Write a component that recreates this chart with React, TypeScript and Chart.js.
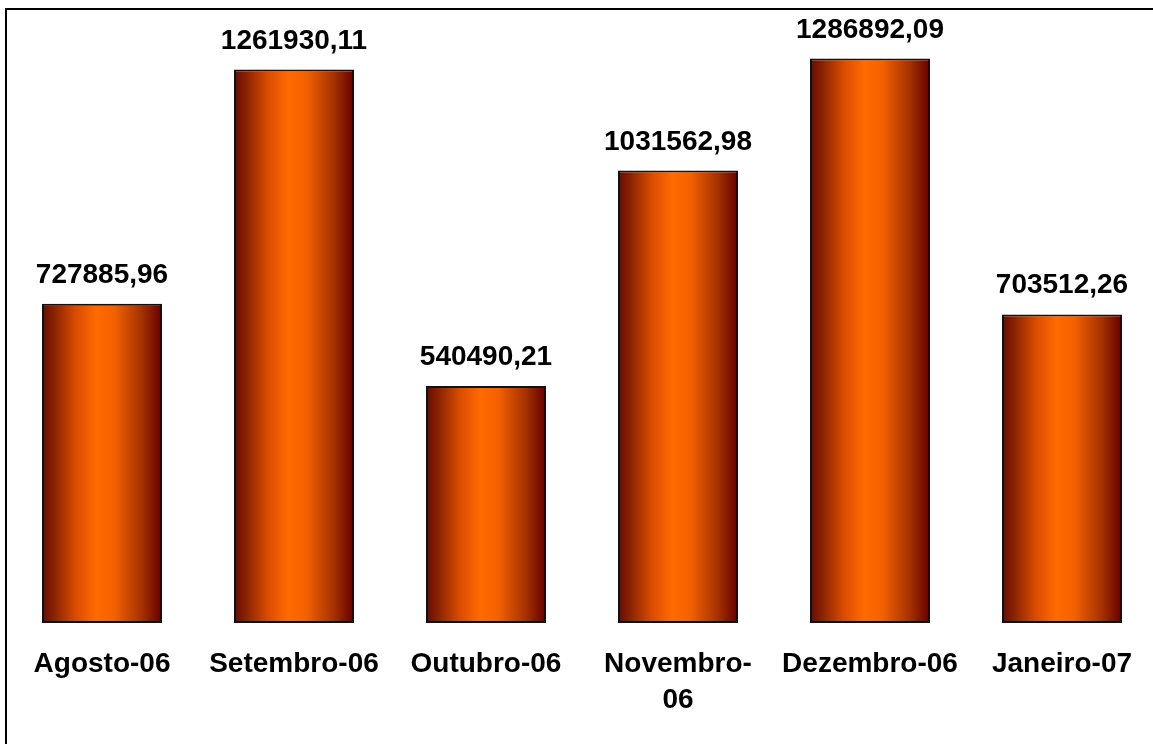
import React, { useEffect, useRef } from 'react';
import { Chart, registerables } from 'chart.js';

Chart.register(...registerables);

const categories: (string | string[])[] = ['Agosto-06', 'Setembro-06', 'Outubro-06', ['Novembro-', '06'], 'Dezembro-06', 'Janeiro-07'];
const values = [727885.96, 1261930.11, 540490.21, 1031562.98, 1286892.09, 703512.26];
const yMax = 1400000;

const FONT = '"Liberation Sans", Arial, sans-serif';

const fmt = (v: number) => v.toFixed(2).replace('.', ',');

const frame = {
  id: 'frame',
  beforeDraw(chart: any) {
    const ctx = chart.ctx;
    ctx.save();
    ctx.fillStyle = '#ffffff';
    ctx.fillRect(0, 0, chart.width, chart.height);
    ctx.fillStyle = '#000000';
    ctx.fillRect(5, 8, 2, chart.height);
    ctx.fillRect(5, 8, chart.width, 2);
    ctx.restore();
  },
};

const valueLabels = {
  id: 'valueLabels',
  afterDatasetsDraw(chart: any) {
    const ctx = chart.ctx;
    const meta = chart.getDatasetMeta(0);
    ctx.save();
    ctx.font = `bold 28px ${FONT}`;
    ctx.fillStyle = '#000000';
    ctx.textAlign = 'center';
    ctx.textBaseline = 'alphabetic';
    meta.data.forEach((el: any, i: number) => {
      ctx.fillText(fmt(values[i]), el.x, el.y - 21);
    });
    ctx.restore();
  },
};

export default function App() {
  const ref = useRef<HTMLCanvasElement | null>(null);

  useEffect(() => {
    if (!ref.current) return;
    const chart = new Chart(ref.current, {
      type: 'bar',
      data: {
        labels: categories as any,
        datasets: [
          {
            data: values,
            categoryPercentage: 1,
            barPercentage: 0.625,
            borderColor: '#111111',
            borderWidth: 2,
            borderSkipped: false,
            backgroundColor: (c: any) => {
              const ch = c.chart;
              const xs = ch.scales && ch.scales.x;
              if (!xs || c.dataIndex == null) return '#ff6600';
              const cx = xs.getPixelForValue(c.dataIndex);
              const half = (xs.width / values.length) * 0.625 / 2;
              if (!isFinite(cx) || !isFinite(half) || half <= 0) return '#ff6600';
              const g = ch.ctx.createLinearGradient(cx - half, 0, cx + half, 0);
              g.addColorStop(0, '#6a0a00');
              g.addColorStop(0.1, '#882200');
              g.addColorStop(0.28, '#d84c00');
              g.addColorStop(0.45, '#ff6a00');
              g.addColorStop(0.6, '#f46200');
              g.addColorStop(0.82, '#a83400');
              g.addColorStop(1, '#660000');
              return g;
            },
          },
        ],
      },
      options: {
        responsive: false,
        animation: false,
        layout: { padding: { left: 6, right: 2, top: 9, bottom: 0 } },
        plugins: {
          legend: { display: false },
          tooltip: { enabled: false },
        },
        scales: {
          x: {
            offset: true,
            grid: { display: false, drawTicks: false },
            border: { display: false },
            ticks: {
              color: '#000000',
              font: { family: FONT, size: 28, weight: 'bold', lineHeight: 36 / 28 },
              padding: 23,
              maxRotation: 0,
              minRotation: 0,
              autoSkip: false,
            },
            afterFit: (s: any) => {
              s.height = 121;
            },
          },
          y: { display: false, min: 0, max: yMax },
        },
      },
      plugins: [frame, valueLabels],
    });
    return () => chart.destroy();
  }, []);

  return (
    <div style={{ position: 'fixed', left: 0, top: 0, width: 1153, height: 744, overflow: 'hidden', background: '#fff' }}>
      <canvas ref={ref} width={1160} height={744} style={{ display: 'block', width: 1160, height: 744 }} />
    </div>
  );
}
